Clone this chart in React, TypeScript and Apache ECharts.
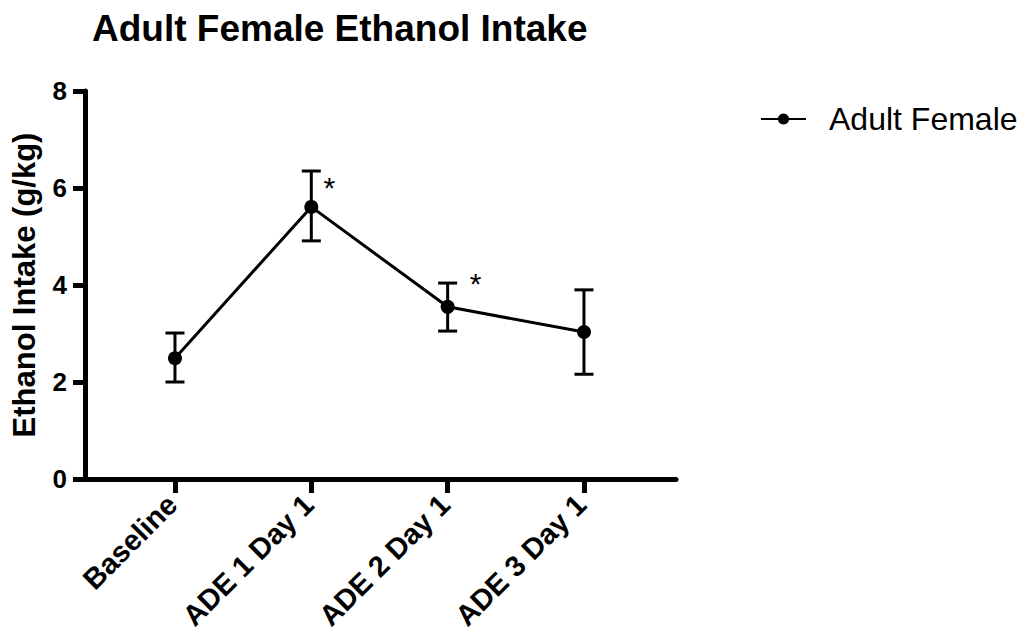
import React, { useEffect, useRef } from "react";
import * as echarts from "echarts";

const categories = ["Baseline", "ADE 1 Day 1", "ADE 2 Day 1", "ADE 3 Day 1"];
const means = [2.49, 5.61, 3.55, 3.03];
const lower = [2.0, 4.91, 3.05, 2.16];
const upper = [3.01, 6.35, 4.04, 3.9];
const significant = [false, true, true, false];
const yTicks = [0, 2, 4, 6, 8];
const seriesName = "Adult Female";
const title = "Adult Female Ethanol Intake";
const yName = "Ethanol Intake (g/kg)";

// label offsets for the significance marks (style only)
const starOffsets: [number, number][] = [
  [0, 0],
  [18, -19],
  [28, -23],
  [0, 0],
];

export default function App() {
  const ref = useRef<HTMLDivElement>(null);
  useEffect(() => {
    if (!ref.current) return;
    const chart = echarts.init(ref.current, undefined, { renderer: "svg" });
    const idx = categories.map((_, i) => i);
    const font = "Liberation Sans, Arial, sans-serif";
    chart.setOption({
      animation: false,
      backgroundColor: "#ffffff",
      title: {
        text: title,
        left: 87,
        top: 5,
        textStyle: { fontFamily: font, fontWeight: "bold", fontSize: 37, color: "#000" },
      },
      legend: {
        left: 755,
        top: 98,
        itemWidth: 45,
        itemHeight: 14,
        data: [seriesName],
        textStyle: { fontFamily: font, fontSize: 32, color: "#000", padding: [0, 0, 0, 18] },
      },
      grid: { left: 85, right: 345, top: 91, bottom: 165, containLabel: false, outerBoundsMode: "none" },
      xAxis: {
        type: "value",
        min: -0.66,
        max: 3.675,
        splitLine: { show: false },
        axisLine: { show: true, onZero: false, lineStyle: { color: "#000", width: 5 } },
        axisTick: { show: true, length: 14, lineStyle: { color: "#000", width: 5 }, customValues: idx },
        axisLabel: {
          customValues: idx,
          rotate: 45,
          margin: 18,
          padding: [0, 4, 0, 0],
          formatter: (v: number) => categories[Math.round(v)] ?? "",
          fontFamily: font,
          fontWeight: "bold",
          fontSize: 29,
          color: "#000",
        },
      },
      yAxis: {
        type: "value",
        min: 0,
        max: 8,
        interval: 2,
        name: yName,
        nameLocation: "middle",
        nameGap: 45,
        nameTextStyle: { fontFamily: font, fontWeight: "bold", fontSize: 31, color: "#000" },
        splitLine: { show: false },
        axisLine: { show: true, onZero: false, lineStyle: { color: "#000", width: 5 } },
        axisTick: { show: true, length: 12, lineStyle: { color: "#000", width: 5 } },
        axisLabel: {
          margin: 18,
          fontFamily: font,
          fontWeight: "bold",
          fontSize: 26,
          color: "#000",
          formatter: (v: number) => (yTicks.includes(v) ? String(v) : ""),
        },
      },
      series: [
        {
          name: seriesName,
          type: "line",
          data: means.map((m, i) => ({
            value: [i, m],
            label: significant[i]
              ? {
                  show: true,
                  formatter: "*",
                  position: "inside",
                  offset: starOffsets[i],
                  fontFamily: font,
                  fontSize: 30,
                  color: "#000",
                }
              : { show: false },
          })),
          symbol: "circle",
          symbolSize: 14,
          itemStyle: { color: "#000" },
          lineStyle: { color: "#000", width: 3 },
          z: 3,
        },
        {
          type: "custom",
          name: "error",
          data: means.map((_, i) => [i, lower[i], upper[i]]),
          renderItem: (params: any, api: any) => {
            const x = api.value(0);
            const lo = api.coord([x, api.value(1)]);
            const hi = api.coord([x, api.value(2)]);
            const hw = 9.5;
            const style = { stroke: "#000", lineWidth: 3 };
            return {
              type: "group",
              children: [
                { type: "line", shape: { x1: lo[0], y1: lo[1], x2: hi[0], y2: hi[1] }, style },
                { type: "line", shape: { x1: lo[0] - hw, y1: lo[1], x2: lo[0] + hw, y2: lo[1] }, style },
                { type: "line", shape: { x1: hi[0] - hw, y1: hi[1], x2: hi[0] + hw, y2: hi[1] }, style },
              ],
            };
          },
          z: 2,
        },
      ],
    });
    return () => chart.dispose();
  }, []);
  return <div ref={ref} style={{ width: 1021, height: 644, position: "absolute", left: 0, top: 0 }} />;
}
